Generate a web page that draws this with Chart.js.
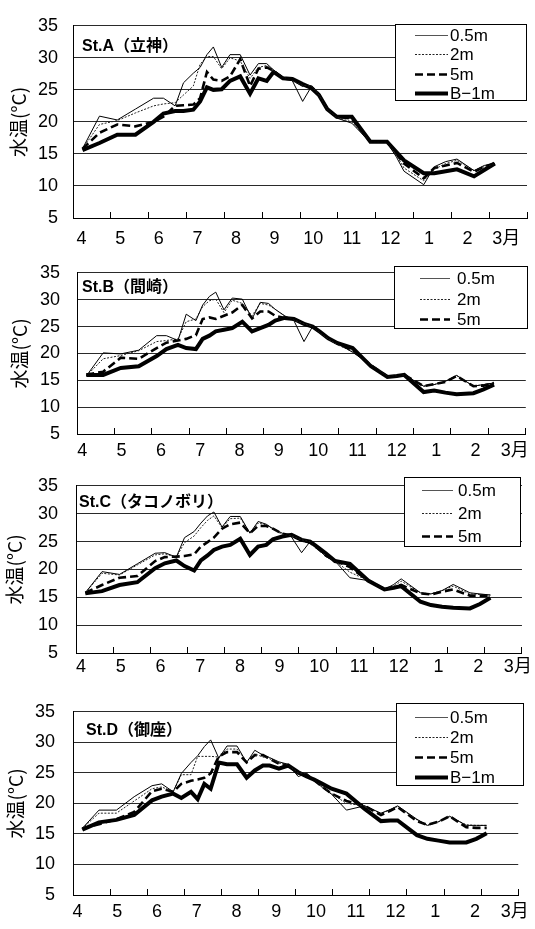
<!DOCTYPE html>
<html><head><meta charset="utf-8">
<script src="https://cdn.jsdelivr.net/npm/chart.js@4.4.1/dist/chart.umd.min.js"></script>
<style>
html,body{margin:0;padding:0;background:#fff;}
#wrap{position:relative;width:535px;height:929px;overflow:hidden;background:#fff;}
canvas{position:absolute;left:0;}
</style></head><body><div id="wrap"></div>
<script>
// ---- data (x = months after 1 April) ----
const sampleMonths = [0.25,0.7,1.17,1.65,2.13,2.39,2.7,2.92,3.18,3.36,3.54,3.71,3.93,4.15,4.42,4.68,4.9,5.12,5.3,5.55,5.8,6.07,6.3,6.5,6.72,6.97,7.37,7.86,8.3,8.55,8.75,9.27,9.55,9.85,10.15,10.6,10.87,11.15];
const monthLabels = ['4','5','6','7','8','9','10','11','12','1','2','3月'];
const seriesNames = ['0.5m','2m','5m','B−1m'];
const yMin = 5, yMax = 35, yStep = 5;

const stA_05 = [15.8,20.9,20.3,22.0,23.7,23.7,22.5,26.1,27.6,28.5,30.5,31.7,28.5,30.5,30.5,27.3,29.1,29.1,28.1,27.0,26.4,23.2,25.5,24.0,21.8,20.6,19.8,16.8,16.8,14.5,12.3,10.2,13.0,13.8,14.2,12.4,13.2,13.5];
const stA_2  = [15.8,19.6,20.2,21.4,22.5,22.8,23.0,24.2,25.6,29.0,30.2,30.2,28.3,30.0,29.5,26.8,28.5,28.8,28.0,27.0,26.4,25.7,25.6,24.2,21.9,20.7,20.0,16.8,16.8,14.8,12.8,10.8,12.6,13.5,14.0,12.4,13.0,13.5];
const stA_5  = [15.8,18.3,19.6,19.3,20.0,20.8,22.5,22.6,22.7,23.7,27.8,26.6,26.4,27.1,29.8,25.6,28.3,28.5,28.0,26.8,26.6,25.7,25.5,24.3,22.0,20.8,20.5,16.9,16.9,15.0,13.5,11.2,12.8,13.2,13.6,12.2,13.0,13.6];
const stA_B1 = [15.6,16.7,18.0,18.0,20.0,21.3,21.7,21.7,21.9,23.2,25.4,25.0,25.1,26.4,27.1,24.4,26.8,26.4,27.8,26.8,26.7,25.9,25.3,24.2,22.0,20.8,20.8,16.9,16.9,15.3,14.0,12.0,12.0,12.3,12.6,11.5,12.5,13.5];

const stB_05 = [15.8,20.1,19.9,20.6,23.3,23.3,22.4,27.3,26.1,29.0,30.6,31.4,28.1,30.3,30.1,26.4,29.5,29.3,28.2,27.0,26.1,22.2,25.0,24.0,22.9,21.9,20.2,17.9,15.6,15.8,16.0,13.9,14.2,14.8,15.9,13.9,14.2,14.5];
const stB_2  = [15.8,19.0,19.6,20.5,22.2,22.4,22.7,25.9,26.4,28.7,29.8,30.1,27.6,29.9,29.3,27.0,29.3,29.0,28.2,27.0,26.2,25.5,25.0,23.8,22.7,21.6,20.3,17.9,15.7,15.8,16.0,13.9,14.2,14.8,15.9,13.9,14.2,14.5];
const stB_5  = [16.0,16.6,19.2,19.0,21.0,22.0,22.4,22.7,23.4,26.4,26.7,26.4,27.0,27.6,29.0,26.5,27.8,27.8,27.0,26.6,26.4,25.5,25.0,23.9,22.8,21.8,20.6,17.8,15.7,15.8,16.0,13.9,14.3,14.7,15.8,13.9,14.0,14.5];
const stB_B1 = [16.0,16.0,17.3,17.6,19.5,20.8,21.6,21.0,20.8,22.7,23.3,24.1,24.4,24.7,25.9,24.1,24.7,25.3,26.1,26.6,26.4,25.5,25.0,24.0,22.8,21.9,21.0,17.6,15.6,15.8,16.0,12.8,13.1,12.7,12.4,12.6,13.3,14.2];

const stC_05 = [15.8,19.6,19.1,21.0,22.9,23.0,22.2,25.7,26.8,28.3,29.6,30.3,27.6,29.5,29.5,26.5,28.6,28.1,27.3,26.5,25.8,23.0,25.0,23.8,22.3,21.5,18.5,18.0,16.4,17.3,18.3,15.8,15.6,16.2,17.3,15.8,15.6,15.4];
const stC_2  = [15.8,19.3,19.0,20.8,22.6,22.8,22.2,24.8,26.0,27.5,28.8,29.6,27.5,29.1,29.2,26.6,28.3,28.0,27.2,26.3,26.0,25.3,25.0,23.8,22.3,21.5,19.5,18.0,16.4,17.0,17.9,15.8,15.6,16.2,17.0,15.6,15.5,15.4];
const stC_5  = [15.8,17.2,18.5,18.8,21.5,22.2,22.3,22.4,22.7,24.1,24.9,25.7,27.3,28.1,28.4,26.5,27.8,27.8,27.3,26.4,26.1,25.3,24.8,23.8,22.5,21.6,20.4,18.0,16.5,16.8,17.2,15.7,15.5,16.0,16.4,15.3,15.3,15.3];
const stC_B1 = [15.7,16.1,17.2,17.7,20.2,21.1,21.6,20.6,19.8,21.6,22.5,23.5,24.1,24.4,25.5,22.6,24.1,24.4,25.4,25.9,26.2,25.3,25.0,24.0,22.9,21.5,21.0,18.0,16.4,16.7,17.0,14.2,13.6,13.3,13.1,13.0,13.8,14.9];

const stD_05 = [15.9,18.9,18.9,21.1,22.9,23.2,21.9,24.9,26.7,27.8,29.3,30.4,27.4,29.4,29.4,26.7,28.7,27.9,27.5,26.8,26.4,24.4,24.9,23.8,22.6,21.5,18.9,19.6,18.4,19.0,19.6,17.4,16.4,17.0,17.9,16.4,16.4,16.4];
const stD_2  = [15.9,18.4,18.4,20.4,22.4,22.7,21.9,24.7,24.7,27.7,27.7,27.7,27.6,28.9,28.9,26.9,28.1,27.6,27.3,26.6,26.3,25.0,24.9,23.8,22.8,21.6,20.0,19.6,18.3,19.0,19.5,17.3,16.4,17.0,17.8,16.5,16.4,16.4];
const stD_5  = [15.9,16.6,17.4,18.6,22.0,22.4,21.9,23.2,23.7,23.9,24.2,24.9,27.7,28.4,28.4,26.7,27.9,27.9,27.3,26.5,26.2,24.9,24.7,23.8,22.7,21.6,20.4,19.6,18.1,18.8,19.4,17.1,16.5,17.0,17.9,16.1,16.0,16.0];
const stD_B1 = [15.7,16.9,17.3,18.1,20.5,21.1,21.6,20.9,21.9,20.7,23.2,22.4,26.7,26.4,26.4,24.2,25.4,26.2,26.2,25.7,26.2,25.1,24.4,23.9,23.2,22.4,21.6,19.1,17.1,17.2,17.2,14.8,14.2,13.9,13.6,13.6,14.2,15.1];

// ---- styles / layout ----
const FONT = '"Liberation Sans","Noto Sans CJK JP",sans-serif';
const seriesStyle = [
  {borderColor:'#000', borderWidth:1, borderDash:[], legendColor:'#555'},
  {borderColor:'#222', borderWidth:1, borderDash:[2,1.5], legendColor:'#222'},
  {borderColor:'#000', borderWidth:2.6, borderDash:[8,4], legendColor:'#000'},
  {borderColor:'#000', borderWidth:4, borderDash:[], legendColor:'#000'}
];

const panels = [
  {title:'St.A（立神）', series:[stA_05,stA_2,stA_5,stA_B1], legendN:4,
   L:73,R:527,T:12,B:218, tdx:9,tdy:21, ypad:15, ytp:8, li:81.6, ls:38.6, lpad:10,
   box:[395,24,131,76], r0:11, dr:19.3, l0:20, l1:53, t0:55},
  {title:'St.B（間崎）', series:[stB_05,stB_2,stB_5,stB_B1], legendN:3,
   L:77,R:529,T:257,B:434, tdx:5,tdy:15, ypad:17, ytp:9, li:82.3, ls:39.6, lpad:6,
   box:[394,266,133,62], r0:12, dr:20.5, l0:26, l1:56, t0:63},
  {title:'St.C（タコノボリ）', series:[stC_05,stC_2,stC_5,stC_B1], legendN:3,
   L:76,R:523,T:469,B:653, tdx:3,tdy:17, ypad:18, ytp:4, li:81.1, ls:39.8, lpad:3,
   box:[404,477,116,69], r0:13, dr:23, l0:18, l1:49, t0:54},
  {title:'St.D（御座）', series:[stD_05,stD_2,stD_5,stD_B1], legendN:4,
   L:73,R:522,T:695,B:895, tdx:13,tdy:19, ypad:18, ytp:5, li:77.5, ls:40.1, lpad:6,
   box:[396,703,127,82], r0:14, dr:20, l0:19, l1:52, t0:54}
];

const deco = {
  id:'panelDeco',
  afterDraw(chart, args, o){
    const ctx = chart.ctx, ca = chart.chartArea;
    ctx.save();
    ctx.fillStyle = '#000';
    ctx.textBaseline = 'middle';
    ctx.textAlign = 'left';
    ctx.font = 'bold 16px ' + FONT;
    ctx.fillText(o.title, ca.left + o.tdx, ca.top + o.tdy);
    const [bx, byAbs, bw, bh] = o.box;
    const by = byAbs - o.top;
    ctx.fillStyle = '#fff';
    ctx.fillRect(bx, by, bw, bh);
    ctx.strokeStyle = '#000';
    ctx.lineWidth = 1;
    ctx.setLineDash([]);
    ctx.strokeRect(bx + 0.5, by + 0.5, bw, bh);
    ctx.font = '17px ' + FONT;
    for (let i = 0; i < o.n; i++) {
      const ds = chart.data.datasets[i];
      const y = Math.round(by + o.r0 + i * o.dr) + 0.5;
      ctx.beginPath();
      ctx.setLineDash(ds.borderDash || []);
      ctx.lineWidth = ds.borderWidth;
      ctx.strokeStyle = ds.legendColor;
      ctx.moveTo(bx + o.l0, y);
      ctx.lineTo(bx + o.l1, y);
      ctx.stroke();
      ctx.setLineDash([]);
      ctx.fillStyle = '#000';
      ctx.fillText(ds.label, bx + o.t0, y + 1);
    }
    ctx.restore();
  }
};

const wrap = document.getElementById('wrap');
panels.forEach(p => {
  const top = p.T - 12;
  const h = p.B - top + 36;
  const cv = document.createElement('canvas');
  cv.width = 535; cv.height = h;
  cv.style.width = '535px'; cv.style.height = h + 'px';
  cv.style.top = top + 'px';
  wrap.appendChild(cv);
  const lmin = (p.L - p.li) / p.ls, lmax = (p.R - p.li) / p.ls;
  new Chart(cv, {
    type:'line',
    data:{datasets: p.series.map((vals, i) => ({
      label: seriesNames[i],
      data: sampleMonths.map((m, j) => ({x:m, y:vals[j]})),
      borderColor: seriesStyle[i].borderColor,
      borderWidth: seriesStyle[i].borderWidth,
      borderDash: seriesStyle[i].borderDash,
      legendColor: seriesStyle[i].legendColor,
      pointRadius:0, tension:0, fill:false,
      borderJoinStyle:'miter', borderCapStyle:'butt',
      xAxisID:'x', yAxisID:'y'
    }))},
    options:{
      responsive:false, animation:false, devicePixelRatio:1,
      layout:{padding:{top:12, left:0, right:535 - p.R, bottom:0}},
      plugins:{
        legend:{display:false}, tooltip:{enabled:false},
        panelDeco:{title:p.title, tdx:p.tdx, tdy:p.tdy, box:p.box, top:top,
                   n:p.legendN, r0:p.r0, dr:p.dr, l0:p.l0, l1:p.l1, t0:p.t0}
      },
      scales:{
        x:{type:'linear', axis:'x', position:'bottom', min:0, max:12, weight:0,
           ticks:{display:false, stepSize:1},
           grid:{drawOnChartArea:false, drawTicks:true, tickLength:-6, color:'#000', lineWidth:1},
           border:{display:true, color:'#000', width:1},
           afterFit(s){ s.height = 0; }},
        xl:{type:'linear', axis:'x', position:'bottom', min:lmin, max:lmax, weight:1,
            grid:{display:false, drawTicks:false}, border:{display:false},
            ticks:{color:'#000', font:{family:FONT, size:18}, padding:p.lpad,
                   autoSkip:false, maxRotation:0, minRotation:0,
                   callback:(v) => monthLabels[v]},
            afterBuildTicks(s){ s.ticks = monthLabels.map((_, i) => ({value:i})); },
            afterFit(s){ s.height = h - (p.B - top); }},
        y:{type:'linear', position:'left', min:yMin, max:yMax,
           ticks:{stepSize:yStep, color:'#000', font:{family:FONT, size:18}, padding:p.ypad},
           grid:{color:'#2a2a2a', lineWidth:1, drawTicks:false},
           border:{display:true, color:'#000', width:1},
           title:{display:true, text:'水温(°C)', color:'#000',
                  font:{family:'"Noto Sans CJK JP",sans-serif', size:19, lineHeight:1.1}, padding:{top:p.ytp, bottom:0}},
           afterFit(s){ s.width = p.L; }}
      }
    },
    plugins:[deco]
  });
});
</script></body></html>
